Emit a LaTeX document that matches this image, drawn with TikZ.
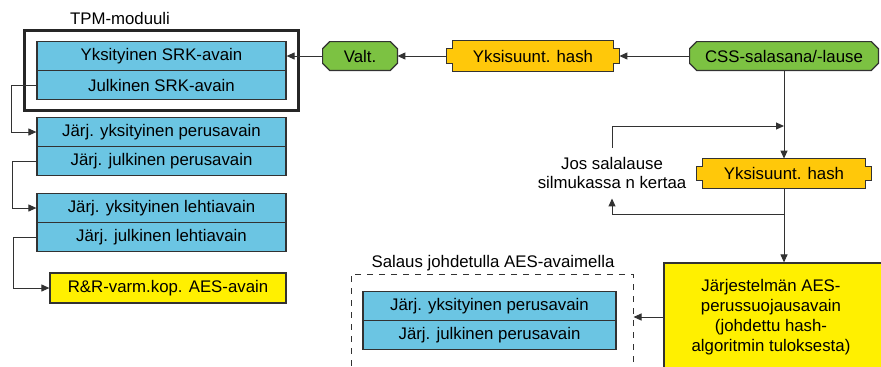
\documentclass[tikz,border=0pt]{standalone}
\usepackage{fontspec}
\setmainfont{Liberation Sans}
\usepackage{tikz}
\usetikzlibrary{arrows.meta,fit,calc,backgrounds}

\definecolor{keyblue}{RGB}{107,197,227}
\definecolor{hashorange}{RGB}{255,200,10}
\definecolor{passgreen}{RGB}{124,194,66}
\definecolor{aesyellow}{RGB}{255,240,0}
\definecolor{edgegray}{RGB}{50,50,50}

% notched outline behind a hash node
\newcommand{\hashframe}[1]{%
  \begin{scope}[on background layer]
    \draw[edgegray, line width=0.6pt, fill=hashorange]
      ($(#1.north west)+(6,0)$) -- ($(#1.north east)+(-6,0)$) -- ++(0,8)
      -- ($(#1.north east)+(0,8)$) -- ($(#1.south east)+(0,-8)$) -- ++(-6,0)
      -- ($(#1.south east)+(-6,0)$) -- ($(#1.south west)+(6,0)$) -- ++(0,-8)
      -- ($(#1.south west)+(0,-8)$) -- ($(#1.north west)+(0,8)$) -- ++(6,0) -- cycle;
  \end{scope}}
% cut-corner outline behind a passphrase node
\newcommand{\octframe}[1]{%
  \begin{scope}[on background layer]
    \draw[edgegray, line width=0.6pt, fill=passgreen]
      ($(#1.north west)+(7,0)$) -- ($(#1.north east)+(-7,0)$)
      -- ($(#1.north east)+(0,7)$) -- ($(#1.south east)+(0,-7)$)
      -- ($(#1.south east)+(-7,0)$) -- ($(#1.south west)+(7,0)$)
      -- ($(#1.south west)+(0,-7)$) -- ($(#1.north west)+(0,7)$) -- cycle;
  \end{scope}}

\begin{document}
\begin{tikzpicture}[x=0.5pt, y=-0.5pt, font=\fontsize{8.4}{9.9}\selectfont,
    >={Triangle[length=4pt,width=3.5pt]}]
    \tikzstyle{keybox} = [rectangle, draw=edgegray, line width=0.6pt, fill=keyblue, inner sep=0pt, minimum width=124.5pt, minimum height=14.5pt]
    \tikzstyle{aesbox} = [rectangle, draw=edgegray, line width=0.6pt, fill=aesyellow, inner sep=0pt]
    \tikzstyle{pass} = [rectangle, inner sep=0pt, minimum height=14pt]
    \tikzstyle{hashbox} = [rectangle, inner sep=0pt, minimum height=15pt]
    \tikzstyle{conn} = [edgegray, line width=0.5pt]
    \useasboundingbox (0,0) rectangle (881,366);

    % TPM module
    \node[keybox] (srkpriv) at (161.5,56) {Yksityinen SRK-avain\hspace{10pt}};
    \node[keybox] (srkpub) at (161.5,85) {Julkinen SRK-avain\hspace{10pt}};
    \node[draw=black!85, line width=1.5pt, inner xsep=6pt, inner ysep=5pt, fit=(srkpriv)(srkpub)] (tpm) {};
    \node (tpmlabel) at (120,18) {TPM-moduuli};

    % Key chain
    \node[keybox] (basepriv) at (161.5,132) {Järj. yksityinen perusavain};
    \node[keybox] (basepub) at (161.5,161) {Järj. julkinen perusavain};
    \node[keybox] (leafpriv) at (161.5,208) {Järj. yksityinen lehtiavain};
    \node[keybox] (leafpub) at (161.5,237) {Järj. julkinen lehtiavain};
    \node[aesbox, minimum width=118pt, minimum height=15pt] (backup) at (168,288) {R\&R-varm.kop. AES-avain};

    \draw[conn, ->] (srkpub.west) -- ++(-25,0) |- (basepriv.west);
    \draw[conn, ->] (basepub.west) -- ++(-24,0) |- (leafpriv.west);
    \draw[conn, ->] (leafpub.west) -- ++(-23,0) |- (backup.west);

    % Passphrase and hashes
    \node[pass, minimum width=37pt] (valt) at (360,56) {Valt.};
    \octframe{valt}
    \node[hashbox, minimum width=86pt] (hashone) at (533,56) {Yksisuunt. hash};
    \hashframe{hashone}
    \node[pass, minimum width=94pt] (css) at (784,56) {CSS-salasana/-lause};
    \octframe{css}
    \node[hashbox, minimum width=87pt, minimum height=14.5pt] (hashtwo) at (784,173.5) {Yksisuunt. hash};
    \hashframe{hashtwo}

    \draw[conn, ->] (css.west) -- (hashone.east);
    \draw[conn, ->] (hashone.west) -- (valt.east);
    \draw[conn, ->] (valt.west) -- (srkpriv.east);
    \draw[conn, ->] (css.south) -- (hashtwo.north);

    % Loop
    \node[align=center, inner xsep=2pt, inner ysep=4.5pt] (loop) at (612,173) {Jos salalause\\silmukassa n kertaa};
    \coordinate (loopin) at (784,126);
    \coordinate (loopout) at (784,214);
    \draw[conn, ->] (loop.north) |- (loopin);
    \draw[conn, ->] (loopout) -| (loop.south);

    % Derived AES key
    \node[aesbox, minimum width=113pt, minimum height=56pt] (bigkey) at (777,319) {};
    \node[align=center] (bigtext) at (771,317) {Järjestelmän AES-\\perussuojausavain\\(johdettu hash-\\algoritmin tuloksesta)};
    \draw[conn, ->] (hashtwo.south) -- (hashtwo.south |- bigkey.north);

    % Encrypted keys
    \node[draw=edgegray, dashed, line width=0.5pt, minimum width=141pt, minimum height=53pt] (encbox) at (492,327) {};
    \node (enclabel) at (493,263) {Salaus johdetulla AES-avaimella};
    \node[keybox, minimum width=126.5pt] (encpriv) at (489.5,306) {Järj. yksityinen perusavain};
    \node[keybox, minimum width=126.5pt] (encpub) at (489.5,335) {Järj. julkinen perusavain};
    \draw[conn, ->] (bigkey.west |- bigtext) -- (bigtext -| encbox.east);

\end{tikzpicture}
\end{document}
